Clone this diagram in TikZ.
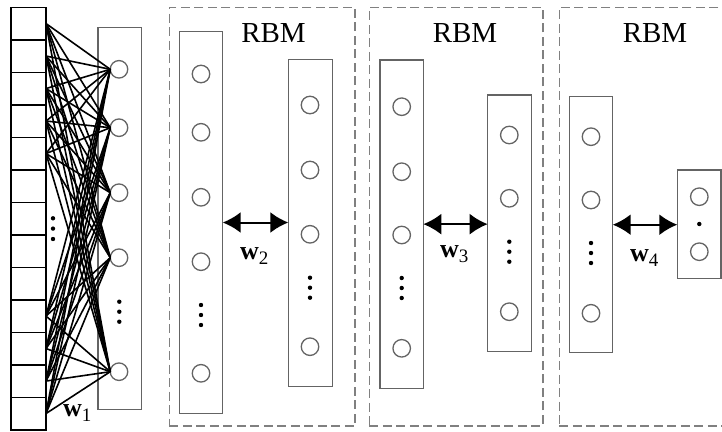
\documentclass[tikz,border=0pt]{standalone}
\usepackage{fontspec}
\setmainfont{Liberation Serif}
\usetikzlibrary{arrows.meta}
\definecolor{boxgray}{HTML}{646464}
\definecolor{dashgray}{HTML}{808080}
\begin{document}
\begin{tikzpicture}[x=1pt,y=-1pt,
 cell/.style={draw=black, line width=1.5pt, minimum width=35pt, minimum height=32.5pt, inner sep=0, outer sep=0},
 layerbox/.style={draw=boxgray, line width=1.3pt, inner sep=0, outer sep=0},
 unit/.style={circle, draw=boxgray, line width=1.3pt, minimum size=17.5pt, inner sep=0, outer sep=0},
 rbmbox/.style={draw=dashgray, line width=1.6pt, dash pattern=on 9pt off 4.5pt, inner sep=0, outer sep=0},
 title/.style={font=\fontsize{29}{30}\selectfont, anchor=base, inner sep=0},
 wlab/.style={anchor=base west, inner sep=0},
 biarrow/.style={{Latex[length=18pt,width=21pt]}-{Latex[length=18pt,width=21pt]}, line width=2pt},
 link/.style={line width=1.6pt, black}
]
\useasboundingbox (0,0) rectangle (722,431);
\newcommand{\wlabel}[1]{{\fontsize{26}{28}\selectfont\bfseries w}\raisebox{-5pt}{\fontsize{19}{20}\selectfont #1}}
\newcommand{\dotr}{2.2pt}

% input layer
\foreach \i in {1,...,13} \node[cell] (c\i) at (28.5,{7.3+32.5*(\i-0.5)}) {};
\foreach \y in {218.3,228.6,239} \fill (53,\y) circle (\dotr);

% first hidden layer
\node[layerbox, minimum width=43.7pt, minimum height=382pt] (H) at (119.85,218.3) {};
\foreach \n/\y in {1/69.3,2/127.7,3/192.7,4/257.7,5/371.7} \node[unit] (h\n) at (119,\y) {};
\foreach \y in {301.7,311.7,321.7} \fill (119.3,\y) circle (\dotr);

\foreach \i in {1,2,3,4,5,10,11,12,13}
  \foreach \j in {1,...,5}
    \draw[link] (c\i.east) -- (h\j.west);
\node[wlab] (w1) at (63,416) {\wlabel{1}};

% RBM 1
\node[rbmbox, minimum width=185.7pt, minimum height=418.7pt] (B1) at (262.15,216.65) {};
\node[title] (t1) at (273.5,42) {RBM};
\node[layerbox, minimum width=43.4pt, minimum height=381.6pt] (L1) at (201,222.5) {};
\foreach \n/\y in {1/74,2/132.3,3/197.3,4/261.7,5/373.3} \node[unit] (a\n) at (201,\y) {};
\foreach \y in {305,315,325} \fill (201,\y) circle (\dotr);
\node[layerbox, minimum width=44pt, minimum height=327.4pt] (R1) at (310.3,223) {};
\foreach \n/\y in {1/105,2/170,3/234.3,4/346.7} \node[unit] (b\n) at (310,\y) {};
\foreach \y in {277.7,287.7,297.7} \fill (310,\y) circle (\dotr);
\draw[biarrow] (L1.east) -- (L1.east -| R1.west);
\node[wlab] (w2) at (240,259) {\wlabel{2}};

% RBM 2
\node[rbmbox, minimum width=173.4pt, minimum height=418.7pt] (B2) at (456,216.65) {};
\node[title] (t2) at (465,42) {RBM};
\node[layerbox, minimum width=43.3pt, minimum height=328.3pt] (L2) at (401.65,224.15) {};
\foreach \n/\y in {1/106.7,2/171.7,3/235,4/348.3} \node[unit] (d\n) at (401.7,\y) {};
\foreach \y in {278,288,298} \fill (401.7,\y) circle (\dotr);
\node[layerbox, minimum width=44pt, minimum height=256.7pt] (R2) at (509.7,223.35) {};
\foreach \n/\y in {1/135,2/198.3,3/311.7} \node[unit] (e\n) at (509.3,\y) {};
\foreach \y in {241.7,251.7,261.7} \fill (509.3,\y) circle (\dotr);
\draw[biarrow] (L2.east) -- (L2.east -| R2.west);
\node[wlab] (w3) at (440,257) {\wlabel{3}};

% RBM 3
\node[rbmbox, minimum width=180.7pt, minimum height=418.7pt] (B3) at (649.65,216.65) {};
\node[title] (t3) at (655,42) {RBM};
\node[layerbox, minimum width=43.4pt, minimum height=256pt] (L3) at (591,224.7) {};
\foreach \n/\y in {1/136.7,2/200,3/313.3} \node[unit] (f\n) at (591,\y) {};
\foreach \y in {243,253,263} \fill (591,\y) circle (\dotr);
\node[layerbox, minimum width=43.7pt, minimum height=108.3pt] (R3) at (699.15,224.15) {};
\foreach \n/\y in {1/196.7,2/251.7} \node[unit] (g\n) at (699.3,\y) {};
\fill (699.3,224) circle (\dotr);
\draw[biarrow] (L3.east) -- (L3.east -| R3.west);
\node[wlab] (w4) at (630,261) {\wlabel{4}};
\end{tikzpicture}
\end{document}
